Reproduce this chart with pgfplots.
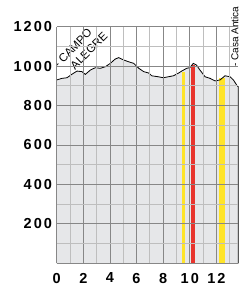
\documentclass[border=0pt]{standalone}
\usepackage{fontspec}
\setmainfont{Liberation Sans}
\newfontfamily\tickfont[LetterSpace=14]{Liberation Sans}
\usepackage{pgfplots}
\pgfplotsset{compat=1.18}
\definecolor{fillgray}{RGB}{230,231,233}
\definecolor{majgrid}{RGB}{135,135,135}
\definecolor{mingrid}{RGB}{190,190,190}
\definecolor{byellow}{RGB}{255,228,40}
\definecolor{bred}{RGB}{232,52,45}
\begin{document}
\begin{tikzpicture}
\begin{axis}[
  scale only axis, width=181.6pt, height=236.6pt,
  xmin=0, xmax=13.65, ymin=0, ymax=1200,
  axis line style={draw=none}, tick style={draw=none},
  axis on top=true, clip=false,
  xtick={0,2,...,12}, minor xtick={1,3,...,13},
  ytick={0,200,...,1200}, yticklabels={,200,400,600,800,1000,1200},
  minor ytick={100,300,...,1100},
  grid=both,
  major grid style={majgrid, line width=0.8pt},
  minor grid style={mingrid, line width=0.7pt},
  /pgf/number format/assume math mode=true,
  tick label style={font=\tickfont\fontsize{14.5}{15}\selectfont\bfseries, inner sep=0pt},
  yticklabel style={anchor=east, xshift=-4.5pt},
  xticklabel style={anchor=north, yshift=-9.5pt},
]
\addplot[fill=fillgray, draw=none] table {
x y
0 930
0.4 938
0.77 941
1.15 959
1.53 975
1.9 972
2.15 958
2.53 980
2.9 992
3.28 989
3.66 997
4.03 1014
4.4 1036
4.66 1043
5.04 1031
5.41 1022
5.79 1014
6.17 989
6.54 972
6.92 965
7.14 951
7.64 946
8.02 941
8.39 946
8.77 951
9.14 964
9.4 975
9.77 989
10.0 992
10.27 1014
10.5 1006
10.77 980
11.15 946
11.53 938
11.9 925
12.28 930
12.65 951
13.03 946
13.28 930
13.53 904
13.65 895
} \closedcycle;
\addplot[ycomb, byellow, line width=2.8pt, mark=none] coordinates {(9.55,968)};
\addplot[ycomb, bred, line width=4pt, mark=none] coordinates {(10.26,1008)};
\addplot[ycomb, byellow, line width=6pt, mark=none] coordinates {(12.43,940)};
\addplot[black, line width=0.8pt, mark=none] table {
x y
0 930
0.4 938
0.77 941
1.15 959
1.53 975
1.9 972
2.15 958
2.53 980
2.9 992
3.28 989
3.66 997
4.03 1014
4.4 1036
4.66 1043
5.04 1031
5.41 1022
5.79 1014
6.17 989
6.54 972
6.92 965
7.14 951
7.64 946
8.02 941
8.39 946
8.77 951
9.14 964
9.4 975
9.77 989
10.0 992
10.27 1014
10.5 1006
10.77 980
11.15 946
11.53 938
11.9 925
12.28 930
12.65 951
13.03 946
13.28 930
13.53 904
13.65 895
13.65 0
};
\node[rotate=46, anchor=base west, inner sep=0pt, font=\fontsize{11.5}{12}\selectfont] at (axis cs:0.12,986) {- CAMPO};
\node[rotate=45, anchor=base west, inner sep=0pt, font=\fontsize{11.5}{12}\selectfont] at (axis cs:1.38,978) {ALEGRE};
\node[rotate=90, anchor=base west, inner sep=0pt, font=\fontsize{10}{12}\selectfont] at (axis cs:13.66,996) {- Casa Antica};
\end{axis}
\pgfresetboundingbox
\path[use as bounding box] ([shift={(-56.7pt,-21.7pt)}]current axis.south west) rectangle ([shift={(1.7pt,26.7pt)}]current axis.north east);
\end{tikzpicture}
\end{document}
